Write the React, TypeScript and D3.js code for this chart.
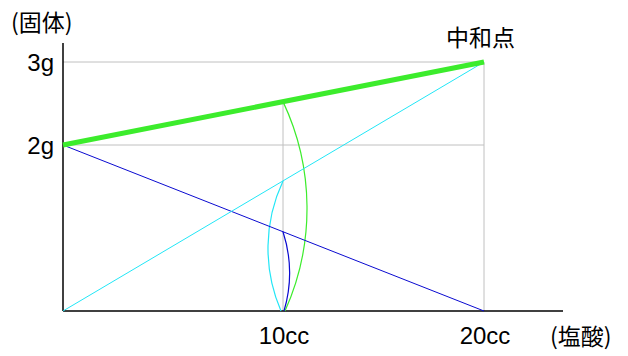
import React from "react";
import * as d3 from "d3";

// ---- data ----
const xTickValues = [10, 20];
const xTickLabels = ["10cc", "20cc"];
const yTickValues = [2, 3];
const yTickLabels = ["2g", "3g"];
const acidRange = [0, 20];
const totalSolid = [2, 3]; // green
const remainingBase = [2, 0]; // blue
const saltFormed = [0, 3]; // cyan
const neutralLabel = "中和点";
const yTitle = "(固体)";
const xTitle = "(塩酸)";

const W = 628;
const H = 356;
const GREEN = "#3cec2c";
const CYAN = "#22e6f6";
const BLUE = "#0a0ad0";
const GRID = "#c0c0c0";
const LATIN = "'Liberation Sans', Arial, sans-serif";
const CJK = "'Noto Sans CJK JP', 'Noto Sans', sans-serif";

export default function App() {
  const x = d3.scaleLinear().domain([0, 10, 20]).range([63, 283, 484]);
  const y = d3.scaleLinear().domain([0, 3]).range([311, 62]);
  const x0 = x(0);
  const y0 = y(0);

  const line = d3
    .line<[number, number]>()
    .x((d) => x(d[0]))
    .y((d) => y(d[1]));

  const series = [
    { vals: totalSolid, color: GREEN, w: 5, bulge: 23, endDx: 2 },
    { vals: saltFormed, color: CYAN, w: 1, bulge: -14, endDx: -2 },
    { vals: remainingBase, color: BLUE, w: 1, bulge: 6, endDx: 1 },
  ];

  const xm = x(10);
  const arcs = series.map((s) => {
    const xa = x(acidRange[0]);
    const xb = x(acidRange[1]);
    const ya = y(s.vals[0]);
    const yb = y(s.vals[1]);
    const t = (xm - xa) / (xb - xa);
    const ys = ya + (yb - ya) * t;
    const ex = xm + s.endDx;
    const L = Math.hypot(ex - xm, y0 - ys);
    const sg = Math.abs(s.bulge);
    const r = (L * L) / 4 / (2 * sg) + sg / 2;
    const sweep = s.bulge > 0 ? 1 : 0;
    return {
      d: `M${xm},${ys} A${r},${r} 0 0 ${sweep} ${ex},${y0}`,
      color: s.color,
      ys,
    };
  });
  const greenTop = arcs[0].ys;

  return (
    <svg
      width={W}
      height={H}
      style={{ position: "absolute", left: 0, top: 0, background: "#fff" }}
    >
      {/* grid */}
      {yTickValues.map((v) => (
        <line key={"h" + v} x1={x0} x2={x(20)} y1={y(v)} y2={y(v)} stroke={GRID} strokeWidth={1} />
      ))}
      <line x1={x(10)} x2={x(10)} y1={greenTop} y2={y0} stroke={GRID} strokeWidth={1} />
      <line x1={x(20)} x2={x(20)} y1={y(3)} y2={y0} stroke={GRID} strokeWidth={1} />

      {/* axes */}
      <line x1={x0} x2={x0} y1={43} y2={y0} stroke="#000" strokeWidth={1.5} />
      <line x1={x0} x2={563} y1={y0} y2={y0} stroke="#000" strokeWidth={1.5} />

      {/* arcs */}
      {arcs.map((a, i) => (
        <path key={"a" + i} d={a.d} fill="none" stroke={a.color} strokeWidth={1.2} />
      ))}

      {/* lines */}
      {[...series].reverse().map((s, i) => (
        <path
          key={"l" + i}
          d={line([
            [acidRange[0], s.vals[0]],
            [acidRange[1], s.vals[1]],
          ]) as string}
          fill="none"
          stroke={s.color}
          strokeWidth={s.w}
        />
      ))}

      {/* labels */}
      <text x={11} y={31} fontFamily={CJK} fontSize={23} fill="#000">
        {yTitle}
      </text>
      {yTickValues.map((v, i) => (
        <text key={"yt" + v} x={54} y={y(v) + 9} textAnchor="end" fontFamily={LATIN} fontSize={24} fill="#000">
          {yTickLabels[i]}
        </text>
      ))}
      {xTickValues.map((v, i) => (
        <text key={"xt" + v} x={x(v) + 1} y={344} textAnchor="middle" fontFamily={LATIN} fontSize={24} fill="#000">
          {xTickLabels[i]}
        </text>
      ))}
      <text x={446} y={46} fontFamily={CJK} fontSize={23} fill="#000">
        {neutralLabel}
      </text>
      <text x={550} y={345} fontFamily={CJK} fontSize={23} fill="#000">
        {xTitle}
      </text>
    </svg>
  );
}
